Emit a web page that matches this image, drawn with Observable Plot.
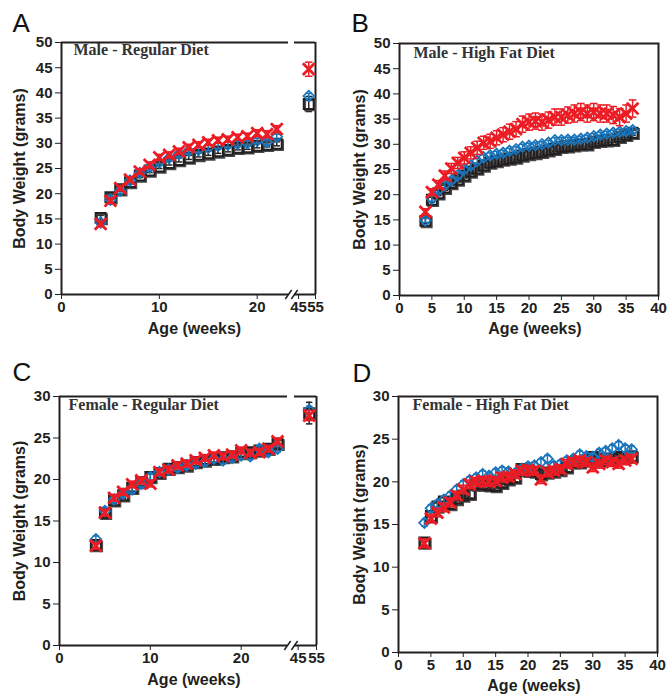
<!DOCTYPE html>
<html><head><meta charset="utf-8">
<script src="https://cdn.jsdelivr.net/npm/d3@7"></script>
<script src="https://cdn.jsdelivr.net/npm/@observablehq/plot@0.6"></script>
<style>
body{margin:0;background:#fff;}
#root{position:relative;width:670px;height:694px;background:#fff;}
.panel{position:absolute;}
</style></head><body><div id="root"></div>
<script>
// ---------- DATA ----------
const weeksReg = [4,5,6,7,8,9,10,11,12,13,14,15,16,17,18,19,20,21,22];
const weeksFemReg = [4,5,6,7,8,9,10,11,12,13,14,15,16,17,18,19,20,21,22,23,24];
const weeksHfd = [4,5,6,7,8,9,10,11,12,13,14,15,16,17,18,19,20,21,22,23,24,25,26,27,28,29,30,31,32,33,34,35,36];
const endWeek = 51;
const yTicksMale = [0,5,10,15,20,25,30,35,40,45,50];
const yTicksFemale = [0,5,10,15,20,25,30];
const xTicksBroken = [0,10,20,45,55];
const xTicksHfd = [0,5,10,15,20,25,30,35,40];

// Panel A: Male - Regular Diet
const maleRegBlack = [15.2,19.3,20.9,22.3,23.6,24.6,25.4,26.1,26.7,27.2,27.7,28.0,28.4,28.7,29.1,29.2,29.5,29.7,29.9];
const maleRegBlue  = [14.3,18.8,20.6,22.6,24.1,25.2,26.2,27.1,27.9,28.5,28.7,29.1,29.5,29.7,29.9,30.0,30.5,30.2,31.3];
const maleRegRed   = [14.0,18.6,21.1,22.8,24.4,25.7,27.2,27.7,28.4,29.2,29.7,30.2,30.6,30.8,31.2,31.4,32.0,31.8,32.8];
const maleRegBlackSem = [0.5,0.5,0.4,0.4,0.4,0.4,0.4,0.4,0.4,0.4,0.4,0.4,0.4,0.4,0.4,0.4,0.4,0.4,0.4];
const maleRegBlueSem  = [0.4,0.5,0.5,0.5,0.5,0.5,0.5,0.5,0.5,0.5,0.5,0.5,0.5,0.5,0.5,0.5,0.5,0.5,0.5];
const maleRegRedSem   = [0.5,0.5,0.5,0.5,0.5,0.6,0.6,0.6,0.6,0.6,0.6,0.6,0.6,0.6,0.6,0.6,0.7,0.7,0.7];
const maleRegEnd    = [37.8,39.4,44.7]; // black, blue, red
const maleRegEndSem = [1.5,0.5,1.4];

// Panel B: Male - High Fat Diet
const maleHfdBlack = [14.8,19.0,20.3,21.4,22.3,23.0,23.8,24.6,25.2,25.8,26.4,26.7,27.0,27.2,27.4,27.8,28.1,28.3,28.5,28.8,29.1,29.5,29.6,29.8,30.0,30.0,30.5,30.7,30.8,30.9,31.5,31.9,32.3];
const maleHfdBlue  = [14.9,19.2,20.9,21.9,22.8,23.8,25.0,25.8,26.7,27.4,27.8,28.1,28.3,28.7,29.0,29.5,29.7,29.8,30.0,30.3,30.8,30.8,30.9,30.9,31.1,31.3,31.6,31.9,32.1,32.3,32.5,32.6,32.8];
const maleHfdRed   = [16.6,20.5,22.0,23.8,25.2,26.3,27.3,28.3,29.3,30.3,30.6,31.3,31.9,32.5,33.0,34.0,34.4,34.6,34.4,34.8,35.4,35.4,35.8,36.1,36.4,36.1,36.4,36.1,36.1,35.8,35.4,36.1,37.1];
const maleHfdBlackSem = [0.5,0.5,0.5,0.5,0.5,0.5,0.5,0.5,0.5,0.5,0.5,0.5,0.5,0.5,0.5,0.5,0.5,0.5,0.5,0.5,0.5,0.5,0.5,0.5,0.5,0.5,0.5,0.5,0.5,0.5,0.5,0.5,0.5];
const maleHfdBlueSem  = [0.4,0.5,0.5,0.5,0.5,0.5,0.5,0.5,0.5,0.5,0.5,0.5,0.5,0.5,0.5,0.5,0.5,0.5,0.5,0.5,0.5,0.5,0.5,0.5,0.5,0.5,0.5,0.5,0.5,0.5,0.5,0.5,0.5];
const maleHfdRedSem   = [0.6,0.7,0.8,0.9,1.0,1.1,1.2,1.2,1.3,1.3,1.4,1.4,1.4,1.5,1.5,1.6,1.6,1.6,1.6,1.6,1.6,1.6,1.6,1.7,1.7,1.7,1.7,1.7,1.7,1.7,1.7,1.7,1.7];

// Panel C: Female - Regular Diet
const femRegBlack = [12.1,16.0,17.5,18.1,19.0,19.7,20.3,20.8,21.3,21.5,21.7,22.1,22.3,22.5,22.7,22.8,23.2,23.3,23.5,23.7,24.3];
const femRegBlue  = [12.8,16.2,17.6,18.3,18.8,19.5,20.3,20.9,21.2,21.4,21.7,21.9,22.1,22.5,22.3,22.6,22.9,22.8,23.7,23.3,23.7];
const femRegRed   = [12.0,16.0,17.8,18.5,19.4,19.9,19.5,20.9,21.2,21.7,21.9,22.3,22.6,22.9,22.8,23.0,23.5,23.2,23.3,23.7,24.6];
const femRegBlackSem = [0.5,0.4,0.4,0.4,0.4,0.4,0.4,0.4,0.4,0.4,0.4,0.4,0.4,0.4,0.4,0.4,0.4,0.4,0.4,0.4,0.4];
const femRegBlueSem  = [0.4,0.4,0.4,0.4,0.4,0.4,0.4,0.4,0.4,0.4,0.4,0.4,0.4,0.4,0.4,0.4,0.4,0.4,0.4,0.4,0.4];
const femRegRedSem   = [0.4,0.4,0.4,0.4,0.4,0.4,0.4,0.4,0.4,0.4,0.4,0.4,0.4,0.4,0.4,0.4,0.4,0.4,0.4,0.4,0.4];
const femRegEnd    = [28.0,28.4,27.7];
const femRegEndSem = [1.3,0.4,0.6];

// Panel D: Female - High Fat Diet
const femHfdBlack = [12.9,16.0,17.1,17.7,17.4,18.0,18.4,18.6,19.7,19.7,19.6,19.5,19.9,20.3,20.5,21.5,21.3,21.2,20.9,21.1,21.2,21.4,21.7,22.3,22.3,22.5,22.9,22.5,22.7,22.7,22.9,22.9,23.0];
const femHfdBlue  = [15.2,16.9,17.4,17.9,18.4,19.1,19.7,20.2,20.5,20.9,20.7,21.1,21.3,21.2,21.0,21.5,21.8,21.9,22.3,22.7,21.9,22.1,22.5,22.7,23.2,23.0,22.9,23.4,23.6,23.9,24.3,23.9,23.8];
const femHfdRed   = [12.8,15.7,16.4,17.0,17.6,18.4,19.1,19.7,20.0,20.1,20.0,20.1,20.5,20.6,20.9,21.3,21.4,21.3,20.3,21.1,21.3,21.5,22.1,22.3,22.5,22.3,21.7,22.1,22.5,22.3,22.1,22.5,22.7];
const femHfdBlackSem = [0.5,0.5,0.5,0.5,0.5,0.5,0.5,0.5,0.5,0.5,0.5,0.5,0.5,0.5,0.5,0.5,0.5,0.5,0.5,0.5,0.5,0.5,0.5,0.5,0.5,0.5,0.5,0.5,0.5,0.5,0.5,0.5,0.5];
const femHfdBlueSem  = [0.4,0.4,0.4,0.4,0.4,0.4,0.4,0.4,0.4,0.4,0.4,0.4,0.4,0.4,0.4,0.4,0.4,0.4,0.4,0.4,0.4,0.4,0.4,0.4,0.4,0.4,0.4,0.4,0.4,0.4,0.4,0.4,0.4];
const femHfdRedSem   = [0.5,0.5,0.5,0.5,0.5,0.5,0.5,0.5,0.5,0.5,0.5,0.5,0.5,0.5,0.5,0.5,0.5,0.5,0.5,0.5,0.5,0.5,0.5,0.5,0.5,0.5,0.5,0.5,0.5,0.5,0.5,0.5,0.5];

// ---------- DRAWING ----------
const ink = "#231f20";
const colors = {black: ink, blue: "#1b75bb", red: "#ec1c24"};
const capSymbol = {draw(ctx, size) { const r = Math.sqrt(size / Math.PI); ctx.moveTo(-r, 0); ctx.lineTo(r, 0); }};
const slashSymbol = {draw(ctx, size) { const r = Math.sqrt(size / Math.PI); ctx.moveTo(-r * 0.7, r); ctx.lineTo(r * 0.7, -r); }};

const rows = (weeks, values, sems) => weeks.map((w, i) => ({week: w, value: values[i], sem: sems[i]}));
const endRow = (ends, sems, i) => ({week: endWeek, value: ends[i], sem: sems[i]});

function seriesMarks(data, key) {
  const c = colors[key];
  const capR = key === "red" ? 3.8 : 3.2;
  const m = [
    Plot.ruleX(data, {x: "week", y1: d => d.value - d.sem, y2: d => d.value + d.sem, stroke: c, strokeWidth: 1.5}),
    Plot.dot(data, {x: "week", y: d => d.value + d.sem, symbol: capSymbol, r: capR, stroke: c, strokeWidth: 1.5}),
    Plot.dot(data, {x: "week", y: d => d.value - d.sem, symbol: capSymbol, r: capR, stroke: c, strokeWidth: 1.5})
  ];
  if (key === "black") {
    m.push(Plot.dot(data, {x: "week", y: "value", symbol: "square", r: 5.6, stroke: "#4a4a4a", strokeWidth: 2, fill: "none", dx: 1.3, dy: 1.3}));
    m.push(Plot.dot(data, {x: "week", y: "value", symbol: "square", r: 5.6, stroke: ink, strokeWidth: 2, fill: "none"}));
  } else if (key === "blue") {
    m.push(Plot.dot(data, {x: "week", y: "value", symbol: "diamond2", r: 4.8, stroke: c, strokeWidth: 1.7, fill: "none"}));
  } else {
    m.push(Plot.dot(data, {x: "week", y: "value", symbol: "times", r: 5.4, stroke: c, strokeWidth: 2.8, fill: "none"}));
  }
  return m;
}

function makePanel(cfg) {
  const W = 335, H = 347;
  const marks = [];
  if (cfg.breaks) {
    const [b0, b1] = cfg.breaks;
    const xMax = cfg.xDomain[cfg.xDomain.length - 1];
    marks.push(
      Plot.ruleX([0, xMax], {stroke: ink, strokeWidth: 2}),
      Plot.ruleY([cfg.yMax, 0], {x1: 0, x2: b0, stroke: ink, strokeWidth: 2}),
      Plot.ruleY([cfg.yMax, 0], {x1: b1, x2: xMax, stroke: ink, strokeWidth: 2}),
      Plot.dot(cfg.breaks, {x: d => d, y: () => 0, symbol: slashSymbol, r: 4.5, stroke: ink, strokeWidth: 1.5})
    );
  } else {
    marks.push(Plot.frame({stroke: ink, strokeWidth: 2}));
  }
  for (const key of ["black", "blue", "red"]) marks.push(...seriesMarks(cfg.series[key], key));
  marks.push(
    Plot.text([cfg.title], {frameAnchor: "top-left", dx: cfg.titleDx, dy: cfg.titleDy, textAnchor: "start", lineAnchor: "middle",
      fontFamily: "'Liberation Serif', 'Times New Roman', serif", fontWeight: "bold", fontSize: 16, fill: "#333"}),
    Plot.text([cfg.letter], {frameAnchor: "top-left", dx: cfg.letterDx, dy: cfg.letterDy, textAnchor: "start", lineAnchor: "bottom",
      fontFamily: "'Liberation Sans', Arial, sans-serif", fontWeight: "normal", fontSize: 26, fill: "#111"}),
    Plot.text(["Body Weight (grams)"], {frameAnchor: "left", dx: cfg.ylabDx, rotate: -90, textAnchor: "middle", lineAnchor: "middle",
      fontFamily: "'Liberation Sans', Arial, sans-serif", fontWeight: "bold", fontSize: 16, fill: ink}),
    Plot.text(["Age (weeks)"], {frameAnchor: "bottom", dx: 6, dy: cfg.xlabDy, textAnchor: "middle", lineAnchor: "middle",
      fontFamily: "'Liberation Sans', Arial, sans-serif", fontWeight: "bold", fontSize: 16, fill: ink})
  );
  return Plot.plot({
    width: W, height: H,
    marginLeft: cfg.ml, marginRight: cfg.mr, marginTop: cfg.mt, marginBottom: cfg.mb,
    x: {type: "linear", domain: cfg.xDomain, range: cfg.xRange, ticks: cfg.xTicks, tickSize: 5, tickPadding: 2, tickFormat: d => String(d), label: null},
    y: {domain: [0, cfg.yMax], ticks: cfg.yTicks, tickSize: 6, tickPadding: 3, tickFormat: d => String(d), label: null},
    style: {font: "bold 15px 'Liberation Sans', Arial, sans-serif", color: ink, background: "transparent", overflow: "visible"},
    marks
  });
}

const panels = [
  {pos: [0, 0], letter: "A", title: "Male - Regular Diet", ml: 61, mr: 20, mt: 42, mb: 53, yMax: 50, yTicks: yTicksMale,
   xDomain: [0, 23.2, 42.6, 55], xRange: [61, 288, 294, 315], xTicks: xTicksBroken, breaks: [23.2, 42.6],
   titleDx: 12, titleDy: 7, letterDx: -49, letterDy: -11, ylabDx: -42, xlabDy: 34,
   series: {
     black: [...rows(weeksReg, maleRegBlack, maleRegBlackSem), endRow(maleRegEnd, maleRegEndSem, 0)],
     blue:  [...rows(weeksReg, maleRegBlue, maleRegBlueSem), endRow(maleRegEnd, maleRegEndSem, 1)],
     red:   [...rows(weeksReg, maleRegRed, maleRegRedSem), endRow(maleRegEnd, maleRegEndSem, 2)]
   }},
  {pos: [335, 0], letter: "B", title: "Male - High Fat Diet", ml: 64, mr: 12, mt: 43, mb: 52, yMax: 50, yTicks: yTicksMale,
   xDomain: [0, 40], xTicks: xTicksHfd,
   titleDx: 14, titleDy: 9, letterDx: -48, letterDy: -12, ylabDx: -40, xlabDy: 33,
   series: {
     black: rows(weeksHfd, maleHfdBlack, maleHfdBlackSem),
     blue:  rows(weeksHfd, maleHfdBlue, maleHfdBlueSem),
     red:   rows(weeksHfd, maleHfdRed, maleHfdRedSem)
   }},
  {pos: [0, 347], letter: "C", title: "Female - Regular Diet", ml: 59, mr: 19, mt: 49, mb: 49, yMax: 30, yTicks: yTicksFemale,
   xDomain: [0, 25.1, 43, 55], xRange: [59, 287, 294, 316], xTicks: xTicksBroken, breaks: [25.1, 43],
   titleDx: 9, titleDy: 8, letterDx: -47, letterDy: -16, ylabDx: -40, xlabDy: 34,
   series: {
     black: [...rows(weeksFemReg, femRegBlack, femRegBlackSem), endRow(femRegEnd, femRegEndSem, 0)],
     blue:  [...rows(weeksFemReg, femRegBlue, femRegBlueSem), endRow(femRegEnd, femRegEndSem, 1)],
     red:   [...rows(weeksFemReg, femRegRed, femRegRedSem), endRow(femRegEnd, femRegEndSem, 2)]
   }},
  {pos: [335, 347], letter: "D", title: "Female - High Fat Diet", ml: 63, mr: 13, mt: 49, mb: 42, yMax: 30, yTicks: yTicksFemale,
   xDomain: [0, 40], xTicks: xTicksHfd,
   titleDx: 14, titleDy: 8, letterDx: -46, letterDy: -15, ylabDx: -39, xlabDy: 33,
   series: {
     black: rows(weeksHfd, femHfdBlack, femHfdBlackSem),
     blue:  rows(weeksHfd, femHfdBlue, femHfdBlueSem),
     red:   rows(weeksHfd, femHfdRed, femHfdRedSem)
   }}
];

const root = document.getElementById("root");
for (const cfg of panels) {
  const div = document.createElement("div");
  div.className = "panel";
  div.style.left = cfg.pos[0] + "px";
  div.style.top = cfg.pos[1] + "px";
  div.appendChild(makePanel(cfg));
  root.appendChild(div);
}
</script></body></html>
